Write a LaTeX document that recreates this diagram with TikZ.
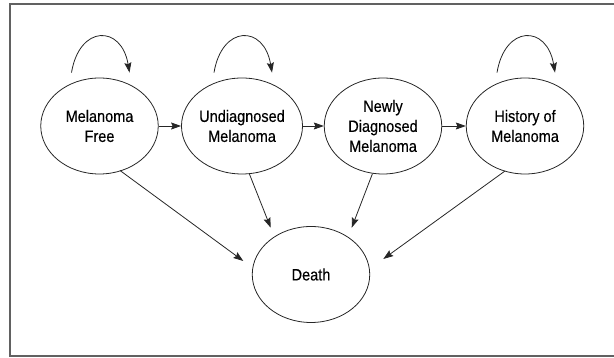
\documentclass[tikz,border=0pt]{standalone}
\usepackage{fontspec}
\setmainfont{Liberation Sans}[FakeStretch=0.88,FakeBold=0.35]
\usetikzlibrary{shapes.geometric,arrows.meta,calc}
\begin{document}
\begin{tikzpicture}[x=1pt,y=1pt,
  state/.style={ellipse,draw=black!85,line width=0.8pt,minimum width=117.5pt,minimum height=96pt,inner sep=0pt,align=center,font=\fontsize{16.5}{20}\selectfont},
  arr/.style={draw=black!85,line width=0.8pt,-{Stealth[length=10pt,width=7pt,inset=1.5pt]}}]
\useasboundingbox (0,0) rectangle (614,358);
\draw[line width=2pt,draw=black!62] (9.7,2) rectangle (630,354);
\node[state] (mf) at (99.5,232) {Melanoma\\Free};
\node[state] (ud) at (242,232) {Undiagnosed\\Melanoma};
\node[state] (nd) at (383,232) {Newly\\Diagnosed\\Melanoma};
\node[state] (hm) at (525,232) {History of\\Melanoma};
\node[state] (death) at (311,83.5) {Death};
% horizontal transitions
\draw[arr] (mf) -- (ud);
\draw[arr] (ud) -- (nd);
\draw[arr] (nd) -- (hm);
% self loops
\foreach \n in {mf,ud,hm}{
  \draw[arr] ($(\n.north)+(-28,5)$) .. controls ($(\n.north)+(-20,53)$) and ($(\n.north)+(22,53)$) .. ($(\n.north)+(30,5)$);
}
% to death
\draw[arr] ($(mf)+(20.5,-44.5)$) -- ($(death)+(-67.7,13.5)$);
\draw[arr] ($(ud)+(7.2,-47.5)$) -- ($(death)+(-40.3,46.8)$);
\draw[arr] ($(nd)+(-10.6,-47.8)$) -- ($(death)+(40.7,46.8)$);
\draw[arr] ($(hm)+(-20,-45)$) -- ($(death)+(72.3,15.5)$);
\end{tikzpicture}
\end{document}
